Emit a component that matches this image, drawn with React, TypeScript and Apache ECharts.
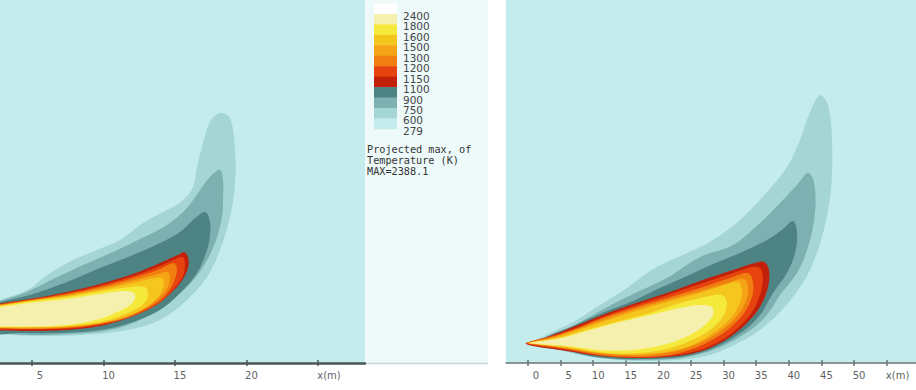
import React, { useEffect, useRef } from 'react';
import * as echarts from 'echarts';

// ---------- colour bar (legend) ----------
const tempLabels = ['2400', '1800', '1600', '1500', '1300', '1200', '1150', '1100', '900', '750', '600', '279'];
const levelColors = ['#ffffff', '#f5f0ad', '#f5ea3c', '#f5c71e', '#f4a415', '#f07e10', '#e6430e', '#c2200a', '#4e8384', '#7cb0b1', '#a6d5d6', '#c4ecec'];
const legendTitle = ['Projected max, of', 'Temperature (K)', 'MAX=2388.1'];

// ---------- axes ----------
const leftTicks = [5, 10, 15, 20, 25];
const rightTicks = [0, 5, 10, 15, 20, 25, 30, 35, 40, 45, 50, 55];
const unitLabel = 'x(m)';

// ---------- left plume contours, [x (m), y (m)] ----------
const left600 = [[2.06, 4.2], [2.76, 4.41], [4.65, 5.1], [6.26, 6.29], [7.87, 7.2], [9.55, 7.9], [11.15, 8.6], [12.76, 9.79], [14.44, 10.7], [15.56, 11.4], [16.26, 12.31], [16.54, 13.71], [16.96, 15.38], [17.45, 16.85], [18.15, 17.48], [18.85, 17.13], [19.2, 14.9], [19.2, 12.59], [18.85, 10.21], [18.15, 7.9], [17.24, 6.01], [15.84, 4.41], [13.95, 3.01], [11.64, 2.31], [8.57, 1.96], [5.07, 1.89], [2.76, 2.03], [2.06, 2.03]];
const left750 = [[2.06, 4.13], [2.76, 4.34], [4.65, 4.97], [6.47, 5.87], [8.57, 6.85], [10.66, 7.76], [12.55, 8.67], [14.44, 9.65], [15.84, 10.84], [16.75, 12.1], [17.45, 13.01], [18.15, 13.5], [18.36, 12.8], [18.36, 11.4], [18.29, 10.21], [17.8, 8.39], [16.96, 6.71], [15.84, 5.31], [14.3, 4.06], [12.55, 3.01], [10.45, 2.31], [7.66, 2.03], [4.86, 1.96], [2.76, 2.1], [2.06, 2.1]];
const left900 = [[2.06, 4.06], [2.76, 4.27], [5.07, 4.83], [7.45, 5.66], [9.76, 6.64], [12.06, 7.55], [13.95, 8.39], [15.35, 9.16], [16.26, 10.0], [17.1, 10.56], [17.45, 9.86], [17.45, 8.95], [17.24, 7.9], [16.54, 6.29], [15.35, 4.9], [13.95, 3.71], [11.85, 2.8], [9.76, 2.31], [6.96, 2.1], [4.16, 2.1], [2.06, 2.17]];
const left1100 = [[2.06, 3.99], [2.76, 4.16], [5.07, 4.51], [7.45, 4.97], [9.76, 5.52], [12.06, 6.22], [13.95, 6.99], [15.35, 7.62], [15.63, 7.76], [15.91, 7.41], [15.91, 6.64], [15.42, 5.66], [14.58, 4.76], [13.53, 3.99], [11.71, 3.15], [9.76, 2.59], [7.45, 2.31], [5.07, 2.24], [2.76, 2.27], [2.06, 2.27]];
const left1150 = [[2.06, 3.97], [2.76, 4.13], [5.07, 4.48], [7.45, 4.9], [9.76, 5.42], [12.06, 6.08], [13.95, 6.78], [15.21, 7.34], [15.56, 7.41], [15.7, 6.92], [15.56, 6.08], [14.86, 5.1], [14.02, 4.27], [12.62, 3.5], [10.45, 2.8], [7.66, 2.41], [4.86, 2.34], [2.76, 2.34], [2.06, 2.34]];
const left1200 = [[2.06, 3.94], [2.76, 4.09], [5.07, 4.44], [7.45, 4.83], [9.76, 5.31], [12.06, 5.94], [13.95, 6.57], [14.93, 6.99], [15.14, 6.5], [14.86, 5.52], [14.23, 4.62], [13.25, 3.92], [11.57, 3.15], [9.76, 2.73], [7.45, 2.45], [5.07, 2.38], [2.76, 2.41], [2.06, 2.41]];
const left1300 = [[2.06, 3.92], [2.76, 4.06], [5.07, 4.41], [7.45, 4.76], [9.76, 5.21], [12.06, 5.77], [13.81, 6.22], [14.51, 6.36], [14.65, 5.94], [14.44, 5.17], [13.74, 4.41], [12.69, 3.71], [11.15, 3.08], [9.06, 2.66], [6.26, 2.45], [2.76, 2.45], [2.06, 2.45]];
const left1500 = [[2.06, 3.9], [2.76, 4.02], [5.07, 4.37], [7.45, 4.69], [9.76, 5.1], [12.06, 5.59], [13.6, 5.94], [14.09, 5.94], [14.23, 5.52], [14.02, 4.9], [13.39, 4.2], [12.2, 3.5], [10.45, 2.94], [8.01, 2.59], [5.07, 2.48], [2.76, 2.48], [2.06, 2.48]];
const left1600 = [[2.06, 3.87], [2.76, 3.99], [5.07, 4.34], [7.45, 4.62], [9.76, 5.0], [11.85, 5.31], [12.9, 5.31], [13.11, 4.9], [12.97, 4.34], [12.41, 3.85], [11.15, 3.29], [9.76, 2.87], [7.45, 2.59], [5.07, 2.52], [2.76, 2.52], [2.06, 2.52]];
const left1800 = [[2.06, 3.81], [2.76, 3.92], [5.07, 4.23], [7.45, 4.48], [9.76, 4.83], [11.5, 5.03], [12.13, 4.9], [12.2, 4.48], [11.78, 3.99], [10.8, 3.5], [9.76, 3.08], [7.45, 2.66], [5.07, 2.55], [2.76, 2.55], [2.06, 2.55]];

// ---------- right plume contours, [x (m), y (m)] ----------
const right600 = [[0.31, 2.91], [1.84, 3.83], [3.37, 4.6], [5.67, 5.67], [7.98, 6.9], [11.04, 8.9], [15.18, 11.5], [18.71, 14.11], [21.32, 15.49], [24.39, 16.87], [28.37, 18.87], [32.52, 21.93], [36.66, 26.23], [39.72, 30.06], [41.72, 34.2], [43.25, 38.5], [44.79, 41.1], [46.01, 39.57], [46.63, 34.2], [46.47, 26.53], [45.25, 19.94], [43.25, 14.26], [40.64, 10.12], [38.19, 7.36], [35.58, 5.06], [32.52, 3.22], [28.37, 1.38], [24.39, 0.61], [18.71, 0.31], [14.11, 0.46], [9.51, 1.07], [4.91, 1.99], [1.84, 2.61]];
const right750 = [[1.07, 2.76], [3.37, 4.29], [5.67, 5.06], [11.04, 7.98], [16.1, 10.58], [21.32, 13.04], [26.38, 16.26], [31.44, 18.1], [35.58, 21.47], [38.65, 24.54], [41.26, 27.3], [42.94, 29.14], [43.87, 27.76], [44.02, 23.01], [42.94, 17.79], [41.26, 13.8], [38.65, 10.43], [36.5, 7.21], [33.44, 4.6], [29.14, 2.3], [24.39, 0.92], [18.71, 0.46], [11.04, 0.77], [4.91, 1.99]];
const right900 = [[1.07, 2.76], [3.37, 4.22], [6.9, 5.67], [11.04, 7.52], [16.1, 9.51], [20.25, 11.5], [24.39, 13.34], [28.37, 15.18], [32.52, 16.87], [36.66, 18.87], [39.11, 20.55], [40.64, 21.78], [41.26, 20.09], [40.95, 16.87], [39.72, 13.8], [37.58, 10.74], [35.58, 7.36], [32.82, 4.75], [28.83, 2.45], [24.39, 1.07], [18.71, 0.61], [11.04, 0.84], [4.91, 2.15]];
const right1100 = [[-0.31, 3.07], [3.37, 4.14], [6.9, 5.52], [11.04, 7.21], [16.1, 9.05], [21.32, 10.74], [26.38, 12.58], [31.44, 14.26], [34.82, 15.34], [36.2, 15.49], [36.96, 14.26], [36.81, 11.66], [35.74, 8.9], [33.74, 6.29], [30.98, 3.99], [27.91, 2.3], [24.85, 1.38], [21.32, 0.92], [16.1, 0.77], [11.04, 1.07], [5.98, 1.84], [0.77, 2.61], [-0.31, 2.91]];
const right1150 = [[-0.15, 3.07], [3.37, 4.06], [6.9, 5.21], [11.04, 6.9], [16.1, 8.74], [21.32, 10.43], [26.38, 12.12], [31.44, 13.8], [34.36, 14.72], [35.58, 14.57], [36.04, 13.04], [35.58, 10.43], [34.36, 7.82], [32.21, 5.37], [29.45, 3.37], [25.92, 1.84], [21.32, 1.07], [16.1, 0.84], [11.04, 1.15], [5.98, 1.99], [0.77, 2.76]];
const right1200 = [[-0.08, 3.07], [3.37, 3.99], [7.52, 5.3], [11.04, 6.75], [16.1, 8.44], [21.32, 9.97], [26.38, 11.5], [30.98, 13.04], [33.74, 13.8], [34.51, 12.42], [34.36, 10.12], [33.13, 7.67], [30.98, 5.37], [28.22, 3.53], [24.85, 1.99], [21.32, 1.15], [16.1, 0.92], [11.04, 1.23], [5.98, 2.15], [0.77, 2.84]];
const right1300 = [[0.0, 3.07], [3.83, 3.95], [7.67, 5.21], [11.5, 6.6], [16.1, 8.13], [21.32, 9.66], [26.38, 11.04], [30.67, 12.27], [33.13, 12.88], [33.74, 11.5], [33.44, 9.51], [32.06, 7.21], [29.75, 5.06], [26.69, 3.22], [23.31, 1.99], [18.71, 1.23], [14.11, 1.23], [9.51, 1.69], [4.91, 2.38], [1.07, 2.91]];
const right1500 = [[0.08, 3.07], [4.29, 3.91], [7.98, 5.14], [11.81, 6.44], [16.1, 7.82], [21.32, 9.36], [26.38, 10.74], [30.21, 11.96], [32.21, 12.42], [32.82, 10.89], [32.21, 8.59], [30.52, 6.29], [27.91, 4.29], [24.85, 2.61], [21.32, 1.69], [16.1, 1.3], [11.04, 1.53], [5.98, 2.38], [1.07, 2.91]];
const right1600 = [[0.15, 3.07], [4.91, 3.85], [9.51, 5.21], [14.11, 6.44], [18.71, 7.67], [23.31, 9.2], [27.15, 10.12], [29.75, 10.43], [30.52, 9.05], [29.75, 6.9], [27.91, 5.06], [24.85, 3.37], [21.32, 2.15], [16.1, 1.46], [11.04, 1.69], [5.98, 2.45], [1.38, 2.91]];
const right1800 = [[0.31, 3.05], [4.91, 3.79], [9.51, 5.06], [14.11, 6.29], [18.71, 7.36], [23.31, 8.44], [26.38, 8.9], [28.22, 8.59], [28.37, 7.36], [27.15, 5.83], [24.85, 4.29], [21.32, 2.91], [16.1, 1.99], [11.04, 1.99], [5.98, 2.61], [1.53, 2.91]];

// level index (into tempLabels / levelColors) of each filled contour, outermost first
const contourLevels = [10, 9, 8, 7, 6, 5, 4, 3, 2, 1];
const leftContours = [left600, left750, left900, left1100, left1150, left1200, left1300, left1500, left1600, left1800];
const rightContours = [right600, right750, right900, right1100, right1150, right1200, right1300, right1500, right1600, right1800];

const BG = levelColors[11];

function contourSeries(contours: number[][][], xIdx: number, yIdx: number) {
  return {
    type: 'custom',
    coordinateSystem: 'cartesian2d',
    xAxisIndex: xIdx,
    yAxisIndex: yIdx,
    clip: true,
    silent: true,
    data: contours.map((c) => c[0]),
    renderItem: (params: any, api: any) => {
      const poly = contours[params.dataIndex];
      const pts = poly.map((p) => api.coord(p));
      return {
        type: 'polygon',
        shape: { points: pts, smooth: 0.35 },
        style: { fill: levelColors[contourLevels[params.dataIndex]] },
      };
    },
  };
}

function mainXAxis(grid: number, min: number, max: number, ticks: number[], lw: number, color: string) {
  const last = ticks[ticks.length - 1];
  return {
    type: 'value',
    gridIndex: grid,
    min,
    max,
    position: 'bottom',
    splitLine: { show: false },
    axisLine: { show: true, onZero: false, lineStyle: { color, width: lw } },
    axisTick: { show: true, customValues: ticks, length: 3, lineStyle: { color, width: 1.5 } },
    axisLabel: {
      show: true,
      customValues: ticks,
      color: '#5f5f5f',
      fontSize: 10,
      fontFamily: 'DejaVu Sans',
      margin: 7,
      padding: [0, 0, 0, 10],
      formatter: (v: number) => (v === last ? '{u|' + unitLabel + '}' : v < 10 ? '{s|' + v + '}' : String(v)),
      rich: {
        s: { padding: [0, 0, 0, 6], fontSize: 10, color: '#5f5f5f', fontFamily: 'DejaVu Sans' },
        u: { padding: [0, 0, 0, 12], fontSize: 10, color: '#5f5f5f', fontFamily: 'DejaVu Sans' },
      },
    },
  };
}

function tickOverlay(grid: number, min: number, max: number, ticks: number[], color: string) {
  return {
    type: 'value',
    gridIndex: grid,
    min,
    max,
    position: 'bottom',
    splitLine: { show: false },
    axisLine: { show: false },
    axisLabel: { show: false },
    axisTick: { show: true, inside: true, customValues: ticks, length: 3, lineStyle: { color, width: 1.5 } },
  };
}

export default function App() {
  const ref = useRef<HTMLDivElement>(null);
  useEffect(() => {
    if (!ref.current) return;
    const chart = echarts.init(ref.current, undefined, { renderer: 'svg' });
    const swH = 10.45;
    const swTop = 3.5;
    const graphics: any[] = [
      { type: 'rect', shape: { x: 365, y: 0, width: 123, height: 363 }, style: { fill: '#eefafa' }, silent: true },
      { type: 'line', shape: { x1: 365, y1: 363.5, x2: 488, y2: 363.5 }, style: { stroke: '#c9d3d3', lineWidth: 1.5 }, silent: true },
    ];
    levelColors.forEach((c, i) => {
      graphics.push({
        type: 'rect',
        shape: { x: 374, y: swTop + i * swH, width: 23, height: swH + 0.4 },
        style: { fill: c },
        silent: true,
      });
    });
    tempLabels.forEach((t, i) => {
      graphics.push({
        type: 'text',
        x: 403,
        y: swTop + (i + 1) * swH + 2,
        style: { text: t, font: '10.5px "DejaVu Sans"', fill: '#444444', verticalAlign: 'middle', align: 'left' },
        silent: true,
      });
    });
    legendTitle.forEach((t, j) => {
      graphics.push({
        type: 'text',
        x: 367,
        y: 149.5 + j * 10.9,
        style: { text: t, font: '10.2px "DejaVu Sans Mono"', fill: '#333333', verticalAlign: 'middle', align: 'left' },
        silent: true,
      });
    });

    chart.setOption({
      animation: false,
      backgroundColor: '#ffffff',
      grid: [
        { left: 0, top: 0, width: 365, height: 363, show: true, backgroundColor: BG, borderWidth: 0 },
        { left: 506, top: 0, width: 410, height: 363, show: true, backgroundColor: BG, borderWidth: 0 },
      ],
      xAxis: [
        mainXAxis(0, 2.762, 28.29, leftTicks, 2.5, '#4b5656'),
        tickOverlay(0, 2.762, 28.29, leftTicks, '#4b5656'),
        mainXAxis(1, -3.374, 59.51, rightTicks, 1.5, '#6a7474'),
        tickOverlay(1, -3.374, 59.51, rightTicks, '#6a7474'),
      ],
      yAxis: [
        { type: 'value', gridIndex: 0, min: 0, max: 25.38, show: false, splitLine: { show: false } },
        { type: 'value', gridIndex: 1, min: 0, max: 55.67, show: false, splitLine: { show: false } },
      ],
      series: [contourSeries(leftContours, 0, 0), contourSeries(rightContours, 2, 1)],
      graphic: graphics,
    });
    return () => chart.dispose();
  }, []);
  return (
    <div
      ref={ref}
      style={{ position: 'fixed', left: 0, top: 0, width: 916, height: 390, background: '#ffffff' }}
    />
  );
}
